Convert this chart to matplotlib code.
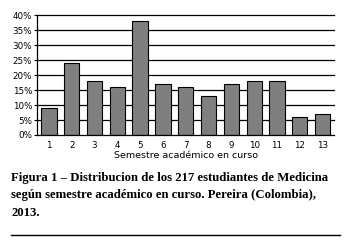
import matplotlib
matplotlib.use('Agg')
import matplotlib.pyplot as plt
from matplotlib.ticker import FuncFormatter

semestres = list(range(1, 14))
porcentajes = [9, 24, 18, 16, 38, 17, 16, 13, 17, 18, 18, 6, 7]
yticks = [0, 5, 10, 15, 20, 25, 30, 35, 40]

fig = plt.figure(figsize=(3.48, 2.46), dpi=100)
ax = fig.add_axes([37/348, 1 - 135/246, 297/348, 119.5/246])

for y in yticks[1:]:
    ax.axhline(y, color='black', lw=0.9, zorder=1, clip_on=False)
ax.bar(semestres, porcentajes, width=0.67, color='#7f7f7f', edgecolor='black', lw=0.8, zorder=2)

ax.set_xlim(0.48, 13.5)
ax.set_ylim(0, 40)
ax.set_yticks(yticks)
ax.yaxis.set_major_formatter(FuncFormatter(lambda v, p: f'{int(v)}%'))
ax.set_xticks(semestres)
ax.tick_params(axis='x', length=0, labelsize=6.3, pad=4)
ax.tick_params(axis='y', length=2, width=0.8, labelsize=6.3, pad=1.5)
for s in ['top', 'right']:
    ax.spines[s].set_visible(False)
ax.spines['left'].set_linewidth(0.9)
ax.spines['bottom'].set_linewidth(0.9)
ax.set_xlabel('Semestre académico en curso', fontsize=6.8, labelpad=1)

fig.text(11/348, 1 - 172/246,
         'Figura 1 – Distribucion de los 217 estudiantes de Medicina\n'
         'según semestre académico en curso. Pereira (Colombia),\n'
         '2013.',
         family='Liberation Serif', weight='bold', fontsize=9.2,
         va='top', ha='left', linespacing=1.6)

fig.add_artist(plt.Line2D([11/348, 340/348], [1 - 235/246, 1 - 235/246], color='black', lw=1))

fig.savefig('out.png', dpi=100)
